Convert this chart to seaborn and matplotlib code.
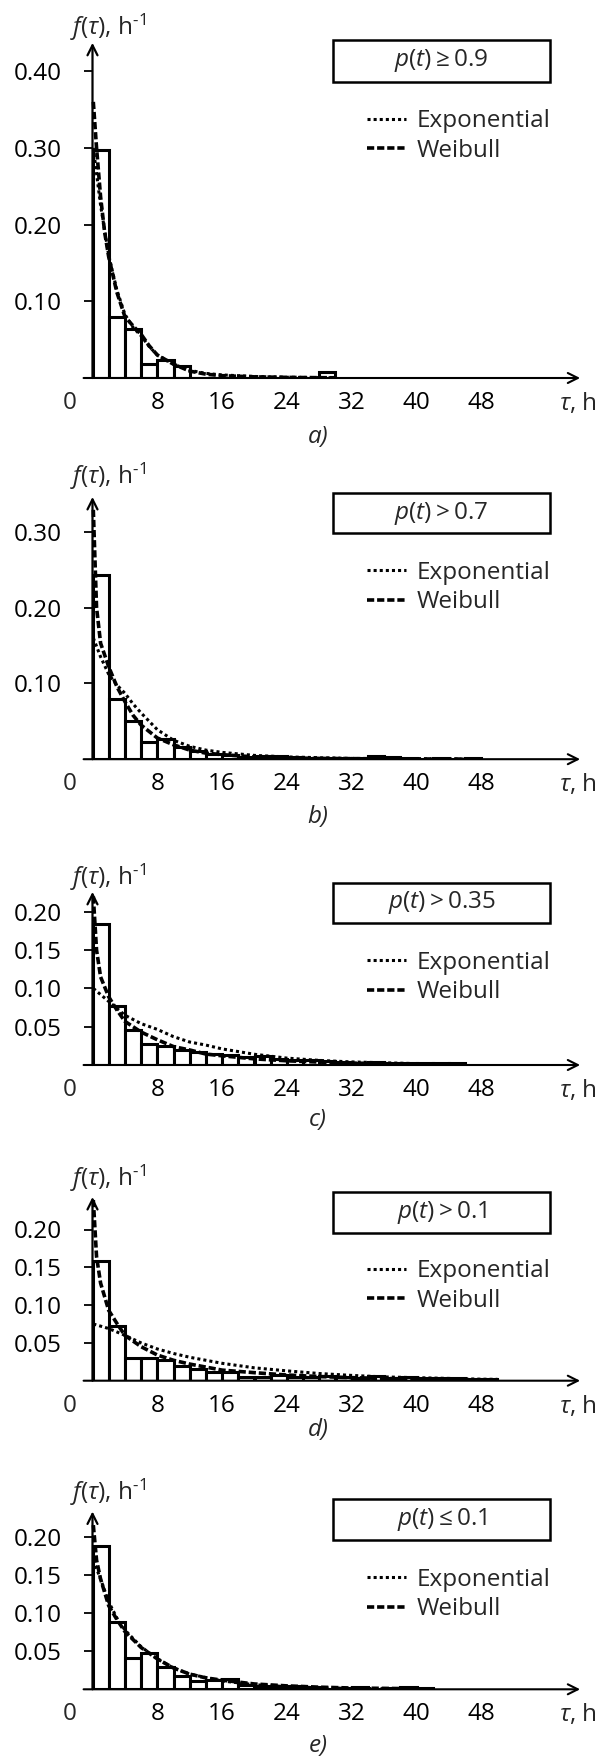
import numpy as np
import pandas as pd
import matplotlib
matplotlib.use("Agg")
import matplotlib.pyplot as plt
from matplotlib.patches import Rectangle
import seaborn as sns

# ---- data (bins are 2 h wide, starting at 0) ----
bars_a = [0.297, 0.079, 0.064, 0.018, 0.024, 0.016, 0, 0, 0, 0, 0, 0, 0, 0, 0.008]
bars_b = [0.243, 0.079, 0.050, 0.023, 0.026, 0.016, 0.011, 0.007, 0.005, 0.003, 0.004, 0.004,
          0.003, 0.002, 0.001, 0.002, 0.002, 0.004, 0.003, 0.002, 0.0, 0.002, 0.0, 0.002]
bars_c = [0.184, 0.077, 0.046, 0.028, 0.025, 0.020, 0.017, 0.015, 0.013, 0.011, 0.012, 0.008,
          0.006, 0.006, 0.005, 0.004, 0.003, 0.004, 0.003, 0.002, 0.003, 0.002, 0.002]
bars_d = [0.158, 0.073, 0.030, 0.030, 0.027, 0.019, 0.015, 0.011, 0.012, 0.005, 0.005, 0.008,
          0.005, 0.005, 0.006, 0.005, 0.004, 0.006, 0.004, 0.005, 0.003, 0.003, 0.003, 0.002, 0.002]
bars_e = [0.188, 0.089, 0.041, 0.048, 0.030, 0.017, 0.011, 0.012, 0.013, 0.006, 0.005, 0.004,
          0.005, 0.003, 0.001, 0.002, 0.003, 0.001, 0.002, 0.003, 0.002]

# fitted curves
exp_a_t = [0.1, 1, 2, 3, 4, 5, 6, 7, 8, 10, 12, 14, 16, 20, 24, 28, 30]
exp_a_f = [0.300, 0.225, 0.160, 0.115, 0.083, 0.066, 0.055, 0.041, 0.030, 0.018, 0.010, 0.006,
           0.004, 0.002, 0.001, 0.0005, 0.0003]
weib_a_t = [0.1, 0.5, 1, 1.5, 2, 3, 4, 5, 6, 7, 8, 10, 12, 14, 16, 20, 24, 28, 30]
weib_a_f = [0.360, 0.300, 0.236, 0.190, 0.158, 0.112, 0.080, 0.068, 0.057, 0.042, 0.030, 0.018,
            0.009, 0.005, 0.003, 0.0015, 0.0008, 0.0004, 0.0003]

exp_b_t = [0.1, 1, 2, 3, 4, 5, 6, 8, 10, 12, 14, 16, 20, 24, 28, 32, 40, 48]
exp_b_f = [0.160, 0.135, 0.112, 0.098, 0.087, 0.073, 0.061, 0.039, 0.025, 0.017, 0.012, 0.009,
           0.005, 0.003, 0.002, 0.001, 0.0004, 0.0002]
weib_b_t = [0.1, 0.5, 1, 2, 3, 4, 5, 6, 8, 10, 12, 14, 16, 20, 24, 28, 32, 40, 48]
weib_b_f = [0.329, 0.200, 0.153, 0.122, 0.096, 0.076, 0.058, 0.045, 0.028, 0.019, 0.012, 0.008,
            0.006, 0.003, 0.0017, 0.0010, 0.0007, 0.0003, 0.0001]

exp_c_t = [0.1, 2, 4, 6, 8, 10, 12, 14, 16, 20, 24, 28, 32, 40, 46]
exp_c_f = [0.100, 0.083, 0.065, 0.054, 0.0465, 0.037, 0.030, 0.026, 0.021, 0.014, 0.009, 0.006,
           0.004, 0.0018, 0.001]
weib_c_t = [0.1, 0.5, 1, 2, 3, 4, 6, 8, 10, 12, 14, 16, 20, 24, 28, 32, 40, 46]
weib_c_f = [0.220, 0.150, 0.115, 0.089, 0.072, 0.057, 0.043, 0.033, 0.024, 0.0196, 0.0143, 0.012,
            0.008, 0.0055, 0.0038, 0.0025, 0.001, 0.0006]

exp_d_t = [0.1, 2, 4, 6, 8, 10, 12, 16, 20, 24, 28, 32, 36, 40, 44, 48, 50]
exp_d_f = [0.075, 0.069, 0.060, 0.050, 0.042, 0.036, 0.031, 0.023, 0.017, 0.013, 0.0095, 0.007,
           0.005, 0.004, 0.003, 0.002, 0.0018]
weib_d_t = [0.1, 0.5, 1, 2, 3, 4, 6, 8, 10, 12, 16, 20, 24, 28, 32, 40, 48, 50]
weib_d_f = [0.239, 0.164, 0.129, 0.093, 0.076, 0.060, 0.045, 0.034, 0.027, 0.022, 0.014, 0.0106,
            0.0075, 0.0055, 0.004, 0.002, 0.001, 0.0009]

exp_e_t = [0.1, 1, 2, 3, 4, 6, 8, 10, 12, 16, 20, 24, 28, 32, 40, 42]
exp_e_f = [0.170, 0.145, 0.115, 0.094, 0.078, 0.056, 0.040, 0.028, 0.020, 0.011, 0.006, 0.0035,
           0.002, 0.0012, 0.0004, 0.0003]
weib_e_t = [0.1, 0.5, 1, 2, 3, 4, 6, 8, 10, 12, 14, 16, 20, 24, 28, 32, 40, 42]
weib_e_f = [0.216, 0.170, 0.145, 0.110, 0.092, 0.076, 0.055, 0.040, 0.028, 0.020, 0.015, 0.012,
            0.007, 0.0045, 0.0028, 0.0017, 0.0007, 0.0005]

conditions = [r"$p(t)\geq0.9$", r"$p(t)>0.7$", r"$p(t)>0.35$", r"$p(t)>0.1$", r"$p(t)\leq0.1$"]
panel_tags = ["a)", "b)", "c)", "d)", "e)"]
yticks_a = [0.10, 0.20, 0.30, 0.40]
yticks_b = [0.10, 0.20, 0.30]
yticks_cde = [0.05, 0.10, 0.15, 0.20]
xticks = [8, 16, 24, 32, 40, 48]

# ---- style ----
sns.set_theme(style="white")
plt.rcParams["font.family"] = ["Open Sans", "DejaVu Sans"]
plt.rcParams["mathtext.fontset"] = "custom"
plt.rcParams["mathtext.rm"] = "Open Sans"
plt.rcParams["mathtext.it"] = "Open Sans:italic"
FS = 17.5
XPAD = 9.5

W, H = 606, 1757
X0 = 92.5          # pixel of t = 0
PX_PER_H = 8.1
XMIN, XMAX = -1.1, 60.2

# layout per panel: zero line (px from top), px per unit, top of y arrow
layout = [
    dict(zero=378.0, scale=767, ytop=0.437, label_y=27, tag_y=437, box=(40, 82), leg_y=135.9),
    dict(zero=759.2, scale=758, ytop=0.346, label_y=476, tag_y=817, box=(493.3, 533.3), leg_y=587.5),
    dict(zero=1065.0, scale=766, ytop=0.226, label_y=877, tag_y=1120, box=(882.7, 922.7), leg_y=977.5),
    dict(zero=1380.7, scale=756, ytop=0.243, label_y=1178, tag_y=1430, box=(1191.7, 1232.7), leg_y=1285.9),
    dict(zero=1689.3, scale=760, ytop=0.234, label_y=1492, tag_y=1746, box=(1499.3, 1540), leg_y=1594.5),
]
bars = [bars_a, bars_b, bars_c, bars_d, bars_e]
exps = [(exp_a_t, exp_a_f), (exp_b_t, exp_b_f), (exp_c_t, exp_c_f), (exp_d_t, exp_d_f), (exp_e_t, exp_e_f)]
weibs = [(weib_a_t, weib_a_f), (weib_b_t, weib_b_f), (weib_c_t, weib_c_f), (weib_d_t, weib_d_f), (weib_e_t, weib_e_f)]
yticks = [yticks_a, yticks_b, yticks_cde, yticks_cde, yticks_cde]

fig = plt.figure(figsize=(W / 100, H / 100), dpi=100)

for i, lay in enumerate(layout):
    left = (X0 + XMIN * PX_PER_H) / W
    width = (XMAX - XMIN) * PX_PER_H / W
    bottom = (H - lay["zero"]) / H
    height = lay["ytop"] * lay["scale"] / H
    ax = fig.add_axes([left, bottom, width, height])
    ax.patch.set_alpha(0)

    heights = bars[i]
    edges = list(range(0, 2 * len(heights) + 1, 2))
    hist_df = pd.DataFrame({"tau": [e + 1 for e in edges[:-1]], "density": heights})
    sns.histplot(data=hist_df, x="tau", weights="density", bins=edges, stat="count", ax=ax,
                 color="white", edgecolor="black", linewidth=2.2, alpha=1, zorder=2)

    et, ef = exps[i]
    wt, wf = weibs[i]
    sns.lineplot(x=et, y=ef, ax=ax, color="black", linewidth=2.2,
                 linestyle=(0, (1, 1)), label="Exponential", zorder=3)
    sns.lineplot(x=wt, y=wf, ax=ax, color="black", linewidth=2.6,
                 linestyle=(0, (2, 0.8)), label="Weibull", zorder=4)

    ax.set_xlim(XMIN, XMAX)
    ax.set_ylim(0, lay["ytop"])
    ax.set_xlabel("")
    ax.set_ylabel("")

    for s in ax.spines.values():
        s.set_visible(False)
    ax.spines["left"].set_position(("data", 0))

    ax.set_yticks(yticks[i])
    ax.set_yticklabels([f"{v:.2f}" for v in yticks[i]])
    ax.tick_params(axis="y", left=True, length=6.5, width=1.3, color="black",
                   pad=15.5, labelsize=FS, labelcolor="black")
    ax.set_xticks(xticks)
    ax.set_xticklabels([str(v) for v in xticks])
    ax.tick_params(axis="x", bottom=True, length=0, pad=XPAD, labelsize=FS, labelcolor="black")

    # axes arrows
    ax.annotate("", xy=(XMAX, 0), xytext=(XMIN, 0), annotation_clip=False,
                arrowprops=dict(arrowstyle="->", color="black", lw=1.5,
                                shrinkA=0, shrinkB=0, mutation_scale=18), zorder=5)
    ax.annotate("", xy=(0, lay["ytop"]), xytext=(0, 0), annotation_clip=False,
                arrowprops=dict(arrowstyle="->", color="black", lw=1.6,
                                shrinkA=0, shrinkB=0, mutation_scale=18), zorder=5)

    ax.annotate("0", xy=(-2.78, 0), xytext=(0, -XPAD), textcoords="offset points",
                ha="center", va="top", fontsize=FS, annotation_clip=False)
    ax.annotate(r"$\tau$, h", xy=(59.9, 0), xytext=(0, -XPAD), textcoords="offset points",
                ha="center", va="top", fontsize=FS, annotation_clip=False)

    # y label and panel tag
    fig.text(70 / W, 1 - lay["label_y"] / H, r"$f(\tau)$, h$^{\text{-1}}$",
             ha="left", va="center", fontsize=FS)
    fig.text(318 / W, 1 - lay["tag_y"] / H, panel_tags[i], style="italic",
             ha="center", va="center", fontsize=FS)

    # condition box
    b0, b1 = lay["box"]
    fig.add_artist(Rectangle((333 / W, 1 - b1 / H), 217 / W, (b1 - b0) / H,
                             transform=fig.transFigure, facecolor="white",
                             edgecolor="black", linewidth=1.8))
    fig.text(441.5 / W, 1 - (b0 + b1) / 2 / H, conditions[i],
             ha="center", va="center", fontsize=FS)

    ax.legend(loc="center left", bbox_to_anchor=(367 / W, 1 - lay["leg_y"] / H),
              bbox_transform=fig.transFigure, frameon=False, fontsize=FS,
              borderpad=0, borderaxespad=0, handlelength=1.6, handletextpad=0.45,
              labelspacing=0.22)

fig.savefig("out.png", dpi=100)
